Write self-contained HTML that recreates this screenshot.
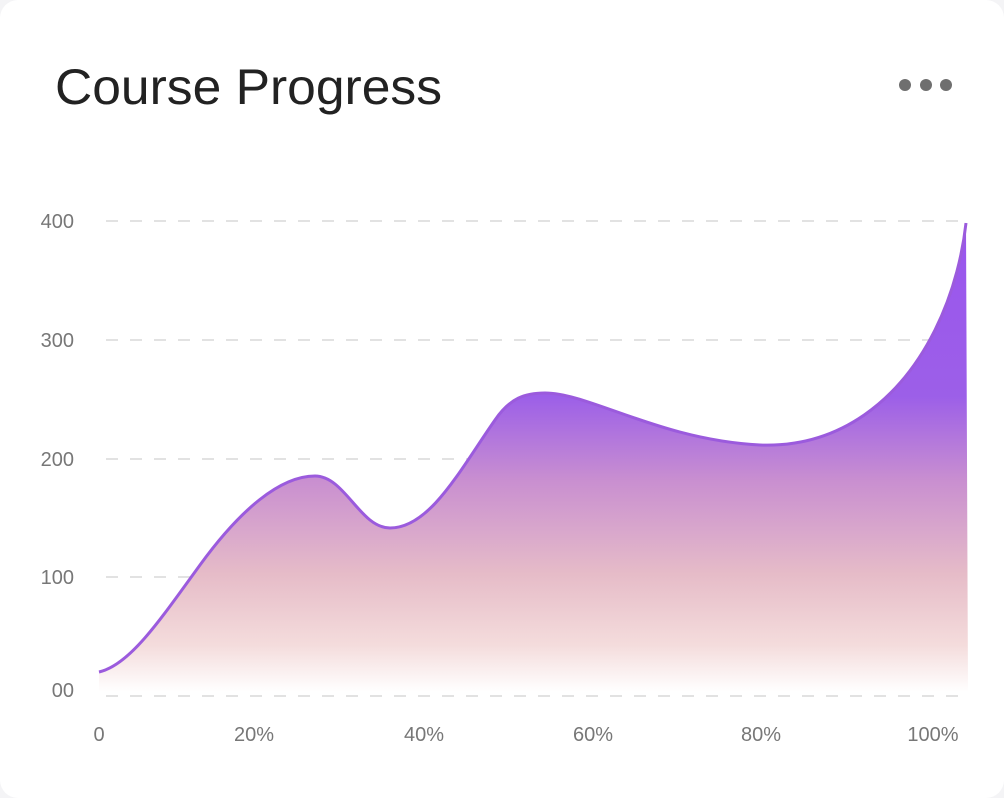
<!DOCTYPE html>
<html><head><style>
html,body{margin:0;padding:0;background:#f4f4f6;}
.card{position:absolute;left:0;top:0;width:1004px;height:798px;background:#fff;border-radius:18px;overflow:hidden;}
</style></head><body><div class="card">
<svg width="1004" height="798" xmlns="http://www.w3.org/2000/svg" style="position:absolute;left:0;top:0">
<defs>
<linearGradient id="g" x1="0" y1="0" x2="0" y2="1" gradientUnits="userSpaceOnUse" x1v="0">
</linearGradient>
<linearGradient id="f" gradientUnits="userSpaceOnUse" x1="0" y1="223" x2="0" y2="692">
<stop offset="0" stop-color="#9a55ee"/>
<stop offset="0.37" stop-color="#9c5fe8"/>
<stop offset="0.55" stop-color="#c98fd0"/>
<stop offset="0.75" stop-color="#e6bcc8"/>
<stop offset="0.9" stop-color="#f4dcdc"/>
<stop offset="1" stop-color="#ffffff"/>
</linearGradient>
</defs>
<text x="55" y="104" font-family="Liberation Sans, sans-serif" font-size="50" fill="#222" textLength="387" lengthAdjust="spacingAndGlyphs">Course Progress</text>
<circle cx="905" cy="85" r="6" fill="#6f6f6f"/><circle cx="926" cy="85" r="6" fill="#6f6f6f"/><circle cx="946" cy="85" r="6" fill="#6f6f6f"/>
<g stroke="#e2e2e2" stroke-width="2" stroke-dasharray="12,12">
<line x1="106" y1="221" x2="966" y2="221"/><line x1="106" y1="340" x2="966" y2="340"/><line x1="106" y1="459" x2="966" y2="459"/><line x1="106" y1="577" x2="966" y2="577"/><line x1="106" y1="696" x2="966" y2="696"/>
</g>
<g font-family="Liberation Sans, sans-serif" font-size="20" fill="#777">
<text x="74" y="228" text-anchor="end">400</text>
<text x="74" y="347" text-anchor="end">300</text>
<text x="74" y="466" text-anchor="end">200</text>
<text x="74" y="584" text-anchor="end">100</text>
<text x="74" y="697" text-anchor="end">00</text>
<g text-anchor="middle">
<text x="99" y="741">0</text><text x="254" y="741">20%</text><text x="424" y="741">40%</text><text x="593" y="741">60%</text><text x="761" y="741">80%</text><text x="933" y="741">100%</text>
</g></g>
<path d="M99,672 C130,665 160,620 200,565 C240,510 280,476 315,476 C345,476 360,528 390,528 C430,528 460,470 495,420 C510,398 525,393 545,393 C590,393 660,440 760,445 C840,448 900,400 935,330 C955,290 963,250 966,223 L968,692 L99,692 Z" fill="url(#f)"/>
<path d="M99,672 C130,665 160,620 200,565 C240,510 280,476 315,476 C345,476 360,528 390,528 C430,528 460,470 495,420 C510,398 525,393 545,393 C590,393 660,440 760,445 C840,448 900,400 935,330 C955,290 963,250 966,223" fill="none" stroke="#9b5bdd" stroke-width="3"/>
</svg></div></body></html>
